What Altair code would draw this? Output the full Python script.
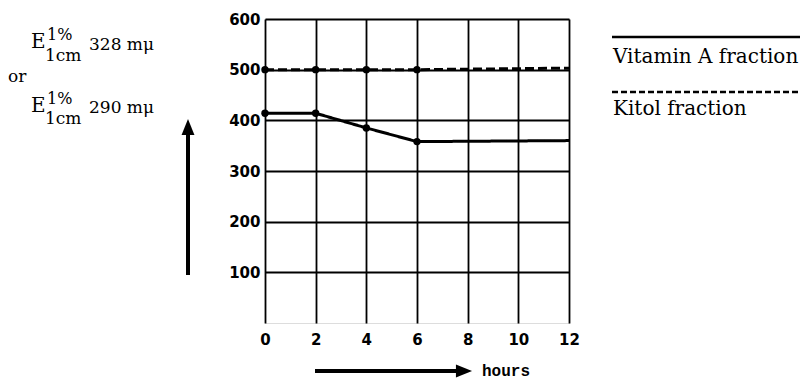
import altair as alt
import pandas as pd

# ---- data ----
hours = [0, 2, 4, 6, 12]
vitamin_a = [414, 414, 385, 358, 360]
kitol = [500, 500, 500, 500, 503]
marker_hours = [0, 2, 4, 6]
series_names = ["Vitamin A fraction", "Kitol fraction"]
x_ticks = [0, 2, 4, 6, 8, 10, 12]
y_ticks = [100, 200, 300, 400, 500, 600]

rows = []
for h, v, k in zip(hours, vitamin_a, kitol):
    rows.append({"hours": h, "value": v, "series": series_names[0], "marker": h in marker_hours})
    rows.append({"hours": h, "value": k, "series": series_names[1], "marker": h in marker_hours})
df = pd.DataFrame(rows)

W, H = 304, 304
PAD_L, PAD_T = 257, 11
PAD_R = 792 - PAD_L - W
PAD_B = 373 - PAD_T - H

x_enc = alt.X(
    "hours:Q",
    scale=alt.Scale(domain=[0, 12], nice=False, zero=False),
    axis=alt.Axis(
        values=x_ticks, title=None, grid=True, gridColor="black", gridWidth=1.8,
        gridOpacity=1, domain=False, ticks=False, labelFont="DejaVu Sans",
        labelFontSize=15, labelFontWeight="bold", labelColor="black",
        labelPadding=9, labelFlush=False,
    ),
)
y_enc = alt.Y(
    "value:Q",
    scale=alt.Scale(domain=[0, 600], nice=False),
    axis=alt.Axis(
        values=y_ticks, title=None, grid=True, gridColor="black", gridWidth=1.8,
        gridOpacity=1, domain=False, ticks=False, labelFont="DejaVu Sans",
        labelFontSize=15, labelFontWeight="bold", labelColor="black",
        labelPadding=5, labelFlush=False,
    ),
)

base = alt.Chart(df)
lines = base.mark_line(color="black", strokeWidth=3).encode(
    x=x_enc,
    y=y_enc,
    detail="series:N",
    strokeDash=alt.StrokeDash(
        "series:N",
        scale=alt.Scale(domain=series_names, range=[[1, 0], [9, 4]]),
        legend=None,
    ),
)
points = base.transform_filter("datum.marker").mark_circle(
    color="black", size=55, opacity=1
).encode(x="hours:Q", y="value:Q")

# ---- annotations (texts) ----
dummy = pd.DataFrame({"d": [0]})
SERIF = "DejaVu Serif"
label_texts = [
    # text, x, y, size
    ("E", -234, 29, 20),
    ("1%", -218, 21, 16),
    ("1cm", -220, 42, 17),
    ("328 mμ", -176, 31, 17),
    ("or", -257, 63, 17),
    ("E", -234, 93, 20),
    ("1%", -218, 85, 16),
    ("1cm", -220, 105, 17),
    ("290 mμ", -176, 94, 17),
    ("Vitamin A fraction", 348, 44, 20),
    ("Kitol fraction", 348, 96, 20),
]
texts = []
for t, tx, ty, fs in label_texts:
    texts.append(
        alt.Chart(dummy).mark_text(
            align="left", baseline="alphabetic", font=SERIF, fontSize=fs, color="black"
        ).encode(x=alt.value(tx), y=alt.value(ty), text=alt.value(t))
    )

hours_text = alt.Chart(dummy).mark_text(
    align="left", baseline="middle", font="Liberation Mono", fontWeight="bold",
    fontSize=16, color="black"
).encode(x=alt.value(217), y=alt.value(352), text=alt.value("hours"))

# legend lines
leg_solid = alt.Chart(dummy).mark_rule(color="black", strokeWidth=2.5).encode(
    x=alt.value(347), x2=alt.value(545), y=alt.value(18)
)
leg_dash = alt.Chart(dummy).mark_rule(color="black", strokeWidth=2.5, strokeDash=[6, 3]).encode(
    x=alt.value(347), x2=alt.value(545), y=alt.value(73)
)

# arrows
UP_HEAD = "M0,-1L0.8,1L-0.8,1Z"
RIGHT_HEAD = "M1,0L-1,0.8L-1,-0.8Z"
up_shaft = alt.Chart(dummy).mark_rule(color="black", strokeWidth=4).encode(
    x=alt.value(-77), y=alt.value(112), y2=alt.value(256)
)
up_head = alt.Chart(dummy).mark_point(
    shape=UP_HEAD, filled=True, color="black", size=260, opacity=1, strokeWidth=0
).encode(x=alt.value(-77), y=alt.value(108))
right_shaft = alt.Chart(dummy).mark_rule(color="black", strokeWidth=4).encode(
    x=alt.value(50), x2=alt.value(196), y=alt.value(352)
)
right_head = alt.Chart(dummy).mark_point(
    shape=RIGHT_HEAD, filled=True, color="black", size=260, opacity=1, strokeWidth=0
).encode(x=alt.value(199), y=alt.value(352))

chart = alt.layer(
    lines, points, *texts, hours_text, leg_solid, leg_dash,
    up_shaft, up_head, right_shaft, right_head,
).properties(
    width=W, height=H,
    autosize=alt.AutoSizeParams(type="none"),
    padding={"left": PAD_L, "top": PAD_T, "right": PAD_R, "bottom": PAD_B},
).configure_view(
    stroke="black", strokeWidth=3
).configure(background="white")

chart.save("out.html", embed_options={"renderer": "svg", "actions": False})
